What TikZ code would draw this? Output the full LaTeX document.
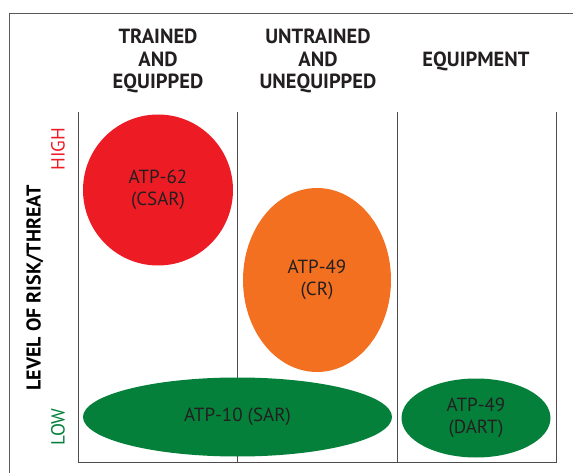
\documentclass[tikz,border=0pt]{standalone}
\usepackage{fontspec}
\setmainfont{PT Sans}
\usetikzlibrary{shapes.geometric, positioning}
\definecolor{riskred}{RGB}{237,28,36}
\definecolor{riskorange}{RGB}{243,112,33}
\definecolor{riskgreen}{RGB}{5,128,58}
\definecolor{inkgray}{RGB}{35,31,32}

\begin{document}
\begin{tikzpicture}[x=1pt, y=-1pt,
  header/.style={font=\fontsize{20.5}{22.5}\selectfont\bfseries, text=inkgray, align=center},
  blob/.style={ellipse, inner sep=0pt, text=inkgray, align=center, font=\fontsize{19}{22}\selectfont},
  gridline/.style={draw=black!70, line width=0.8pt}]
\useasboundingbox (0,0) rectangle (573,473);
% outer frame
\draw[draw=black!65, line width=0.9pt] (573,13) -- (9.5,13) -- (9.5,473);

% column headers
\node[header] (hTrained) at (158,61) {TRAINED\\AND\\EQUIPPED};
\node[header] (hUntrained) at (318,61) {UNTRAINED\\AND\\UNEQUIPPED};
\node[header] (hEquip) at (476,61) {EQUIPMENT};

% grid of columns
\draw[gridline] (78,112) -- (78,462) -- (556,462) -- (556,112);
\draw[gridline] (237.5,112) -- (237.5,462);
\draw[gridline] (397,112) -- (397,462);

% axis labels
\node[rotate=90, font=\fontsize{20}{22}\selectfont\bfseries, text=black] (axis) at (35,288) {LEVEL OF RISK/THREAT};
\node[rotate=90, font=\fontsize{19}{22}\selectfont, text=riskred] (high) at (58,149) {HIGH};
\node[rotate=90, font=\fontsize{19}{22}\selectfont, text=riskgreen] (low) at (58,427) {LOW};

% publications
\node[blob, fill=riskred, minimum width=150pt, minimum height=151pt] (csar) at (158,190) {ATP-62\\(CSAR)};
\node[blob, fill=riskorange, minimum width=148pt, minimum height=184pt] (cr) at (317,280) {ATP-49\\(CR)};
\node[blob, fill=riskgreen, minimum width=309pt, minimum height=79pt] (sar) at (237.5,417) {ATP-10 (SAR)};
\node[blob, fill=riskgreen, minimum width=149pt, minimum height=79pt] (dart) at (476,418) {ATP-49\\(DART)};
\end{tikzpicture}
\end{document}
